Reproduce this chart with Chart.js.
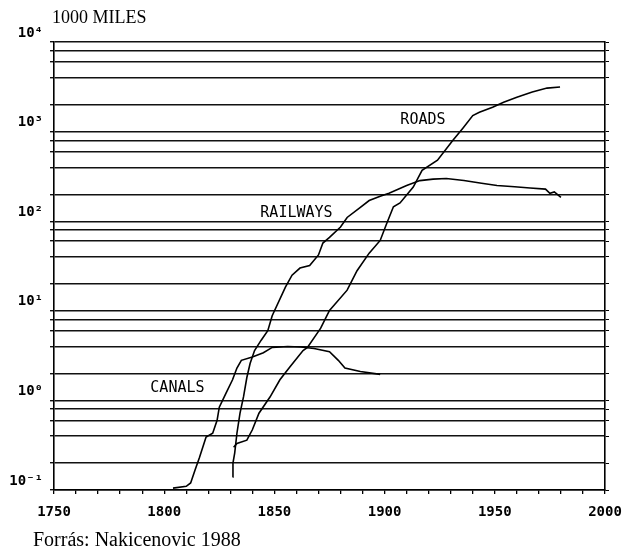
<!DOCTYPE html>
<html>
<head>
<meta charset="utf-8">
<script src="https://cdn.jsdelivr.net/npm/chart.js@4.4.0/dist/chart.umd.min.js"></script>
<style>
  html, body { margin: 0; padding: 0; background: #fff; }
</style>
</head>
<body>
<canvas id="chart" width="623" height="552"></canvas>
<script>
// Transport infrastructure length, 1000 miles (log scale)

const canalYears  = [1804, 1810, 1812, 1814, 1816, 1819, 1822, 1824, 1825, 1828, 1831, 1833, 1835, 1840, 1845, 1849, 1856, 1862, 1868, 1875, 1879, 1882, 1889, 1898];
const canalValues = [0.105, 0.11, 0.12, 0.167, 0.23, 0.39, 0.43, 0.6, 0.84, 1.2, 1.7, 2.3, 2.8, 3.05, 3.4, 3.9, 4.0, 3.95, 3.8, 3.5, 2.8, 2.3, 2.1, 1.95];

const railwayYears  = [1831, 1831.2, 1832, 1833, 1834.4, 1836, 1837.5, 1839, 1841, 1844, 1847, 1849, 1855, 1858, 1861.6, 1866, 1870, 1872, 1875, 1880, 1883, 1889, 1893, 1898, 1902, 1910, 1916, 1922, 1928, 1936, 1944, 1951, 1959, 1966, 1973, 1975, 1977, 1980];
const railwayValues = [0.14, 0.2, 0.26, 0.43, 0.72, 1.1, 1.8, 2.6, 3.6, 4.7, 6.0, 8.8, 18.4, 25, 30, 32, 42, 57, 66, 86, 110, 143, 170, 190, 205, 250, 284, 295, 300, 285, 265, 250, 242, 235, 228, 205, 212, 185];

const roadYears  = [1831.5, 1833, 1837.5, 1840, 1843, 1848, 1852.5, 1857, 1863, 1865, 1871, 1875, 1883, 1887.5, 1893, 1898, 1901, 1904, 1907, 1913, 1917, 1924, 1931, 1935.6, 1940, 1943, 1949, 1954, 1960, 1967, 1973.7, 1979.6];
const roadValues = [0.3, 0.33, 0.36, 0.47, 0.72, 1.09, 1.7, 2.36, 3.6, 3.9, 6.4, 10.1, 17, 28, 44, 61, 95, 145, 160, 240, 370, 480, 800, 1100, 1510, 1640, 1870, 2130, 2420, 2760, 3060, 3140];

// axis ticks
const decades = [0.1, 1, 10, 100, 1000, 10000];
const decadeLabels = ['10⁻¹', '10⁰', '10¹', '10²', '10³', '10⁴'];
const gridSteps = [1, 2, 4, 6, 8];
const yearLabels = [1750, 1800, 1850, 1900, 1950, 2000];
const yearMinorStep = 10;

// curve names and where they sit
const curveLabels = [
  { text: 'ROADS', year: 1917.4, value: 1340 },
  { text: 'RAILWAYS', year: 1860, value: 124 },
  { text: 'CANALS', year: 1806, value: 1.37 }
];

const toPoints = (xs, ys) => xs.map((x, i) => ({ x: x, y: ys[i] }));

// grid values: 1,2,4,6,8 x each decade, up to 10^4
const gridValues = [];
decades.forEach((d, i) => {
  if (i === decades.length - 1) { gridValues.push(d); return; }
  gridSteps.forEach(s => gridValues.push(d * s));
});

function decadeLabel(v) {
  for (let i = 0; i < decades.length; i++) {
    if (Math.abs(v / decades[i] - 1) < 1e-6) return decadeLabels[i];
  }
  return '';
}

const tickFont = { family: '"DejaVu Sans Mono", monospace', size: 14, weight: 'bold' };

const textPlugin = {
  id: 'texts',
  afterDraw(chart) {
    const ctx = chart.ctx;
    const x = chart.scales.x, y = chart.scales.y;
    ctx.save();
    ctx.fillStyle = '#000';
    ctx.textBaseline = 'alphabetic';
    ctx.textAlign = 'left';
    ctx.font = '18px "Liberation Serif", "Times New Roman", serif';
    ctx.fillText('1000 MILES', 52, 23);
    ctx.font = '20px "Liberation Serif", "Times New Roman", serif';
    ctx.fillText('Forrás: Nakicenovic 1988', 33, 546);

    ctx.font = '15px "DejaVu Sans Mono", monospace';
    ctx.textAlign = 'center';
    ctx.textBaseline = 'middle';
    curveLabels.forEach(l => {
      ctx.fillText(l.text, x.getPixelForValue(l.year), y.getPixelForValue(l.value));
    });
    ctx.restore();
  }
};

const lineStyle = {
  borderColor: '#000',
  borderWidth: 1.6,
  pointRadius: 0,
  tension: 0,
  fill: false
};

new Chart(document.getElementById('chart'), {
  type: 'line',
  data: {
    datasets: [
      Object.assign({ label: 'Canals', data: toPoints(canalYears, canalValues) }, lineStyle),
      Object.assign({ label: 'Railways', data: toPoints(railwayYears, railwayValues) }, lineStyle),
      Object.assign({ label: 'Roads', data: toPoints(roadYears, roadValues) }, lineStyle)
    ]
  },
  options: {
    responsive: false,
    animation: false,
    layout: { padding: { top: 42, bottom: 26, left: 0, right: 0 } },
    plugins: {
      legend: { display: false },
      tooltip: { enabled: false }
    },
    scales: {
      x: {
        type: 'linear',
        min: 1750,
        max: 2000,
        afterBuildTicks: scale => {
          const t = [];
          for (let v = 1750; v <= 2000; v += yearMinorStep) t.push({ value: v });
          scale.ticks = t;
        },
        afterFit: scale => {
          scale.height = 36;
          scale.paddingLeft = 0;
          scale.paddingRight = 0;
        },
        ticks: {
          autoSkip: false,
          maxRotation: 0,
          padding: 10,
          color: '#000',
          font: tickFont,
          callback: v => yearLabels.includes(v) ? String(v) : ''
        },
        grid: { drawOnChartArea: false, tickLength: 4, color: '#000', lineWidth: 1.3 },
        border: { color: '#000', width: 1.6 }
      },
      y: {
        type: 'logarithmic',
        min: 0.1,
        max: 10000,
        afterBuildTicks: scale => {
          scale.ticks = gridValues.map(v => ({ value: v }));
        },
        afterFit: scale => {
          scale.width = 54;
          scale.paddingTop = 0;
          scale.paddingBottom = 0;
        },
        ticks: {
          autoSkip: false,
          padding: 7,
          labelOffset: -9,
          color: '#000',
          font: tickFont,
          callback: v => decadeLabel(v)
        },
        grid: { color: '#111', lineWidth: 1.4, tickLength: 4 },
        border: { color: '#000', width: 1.6 }
      },
      y2: {
        type: 'logarithmic',
        position: 'right',
        min: 0.1,
        max: 10000,
        afterBuildTicks: scale => {
          scale.ticks = gridValues.map(v => ({ value: v }));
        },
        afterFit: scale => {
          scale.width = 18;
          scale.paddingTop = 0;
          scale.paddingBottom = 0;
        },
        ticks: { autoSkip: false, padding: 0, callback: () => '' },
        grid: { drawOnChartArea: false, color: '#000', tickLength: 4 },
        border: { color: '#000', width: 1.6 }
      }
    }
  },
  plugins: [textPlugin]
});
</script>
</body>
</html>
